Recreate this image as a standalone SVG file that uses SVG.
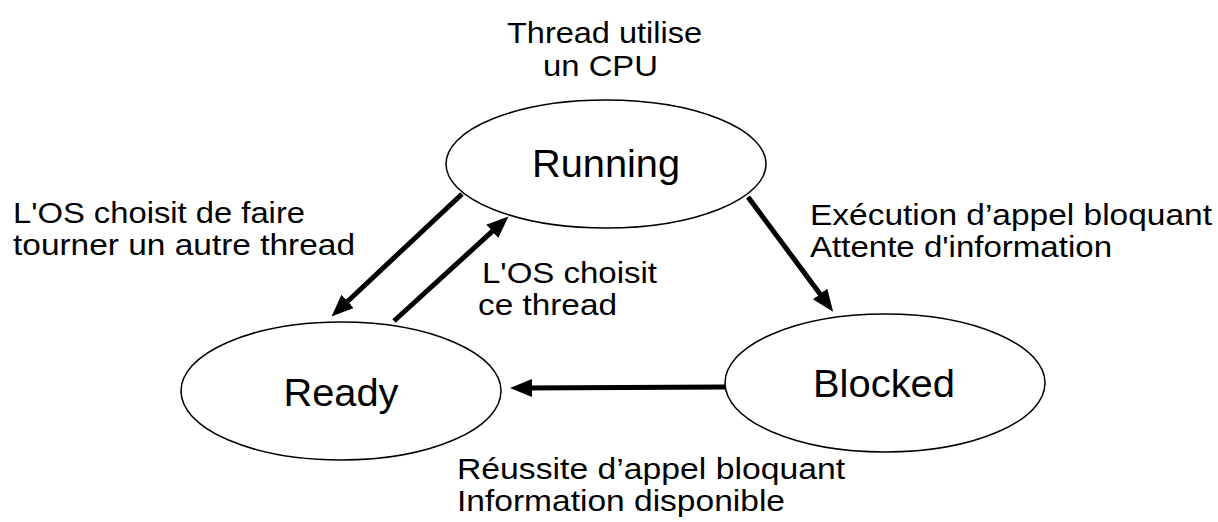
<svg xmlns="http://www.w3.org/2000/svg" width="1218" height="522" viewBox="0 0 1218 522">
<style>
.node ellipse { fill: #ffffff; stroke: #000000; stroke-width: 1.5; }
.node text { font-family: "Liberation Sans", Arial, sans-serif; font-size: 38px; fill: #000000; text-anchor: middle; }
.lbl { font-family: "Liberation Sans", Arial, sans-serif; font-size: 30px; fill: #000000; }
.edge { stroke: #000000; stroke-width: 5; fill: none; marker-end: url(#arrow); }
</style>
<defs>
<marker id="arrow" markerUnits="userSpaceOnUse" markerWidth="24" markerHeight="20" refX="10" refY="9" orient="auto">
<path d="M0,0 L22,9 L0,18 z" fill="#000000"/>
</marker>
</defs>
<rect width="1218" height="522" fill="#ffffff"/>
<g id="connectors">
<line class="edge" x1="462" y1="194" x2="340.3" y2="308.2"/>
<line class="edge" x1="394" y1="321" x2="499.6" y2="224.7"/>
<line class="edge" x1="748" y1="197" x2="826" y2="302"/>
<line class="edge" x1="725" y1="387" x2="522" y2="388"/>
</g>
<g id="running" class="node">
<ellipse cx="606" cy="164" rx="160" ry="64"/>
<text x="606" y="177" textLength="148" lengthAdjust="spacingAndGlyphs">Running</text>
</g>
<g id="ready" class="node">
<ellipse cx="341" cy="391" rx="160" ry="69"/>
<text x="341" y="406" textLength="115" lengthAdjust="spacingAndGlyphs">Ready</text>
</g>
<g id="blocked" class="node">
<ellipse cx="885" cy="383" rx="160" ry="69"/>
<text x="884" y="397" textLength="142" lengthAdjust="spacingAndGlyphs">Blocked</text>
</g>
<g id="labels">
<text class="lbl" x="507" y="43" textLength="195" lengthAdjust="spacingAndGlyphs">Thread utilise</text>
<text class="lbl" x="543" y="76" textLength="115" lengthAdjust="spacingAndGlyphs">un CPU</text>
<text class="lbl" x="13" y="223" textLength="292" lengthAdjust="spacingAndGlyphs">L'OS choisit de faire</text>
<text class="lbl" x="13" y="255" textLength="342" lengthAdjust="spacingAndGlyphs">tourner un autre thread</text>
<text class="lbl" x="482" y="283" textLength="175" lengthAdjust="spacingAndGlyphs">L'OS choisit</text>
<text class="lbl" x="478" y="315" textLength="139" lengthAdjust="spacingAndGlyphs">ce thread</text>
<text class="lbl" x="810" y="225" textLength="402" lengthAdjust="spacingAndGlyphs">Exécution d’appel bloquant</text>
<text class="lbl" x="810" y="257" textLength="302" lengthAdjust="spacingAndGlyphs">Attente d'information</text>
<text class="lbl" x="457" y="479" textLength="388" lengthAdjust="spacingAndGlyphs">Réussite d’appel bloquant</text>
<text class="lbl" x="457" y="511" textLength="328" lengthAdjust="spacingAndGlyphs">Information disponible</text>
</g>
</svg>
